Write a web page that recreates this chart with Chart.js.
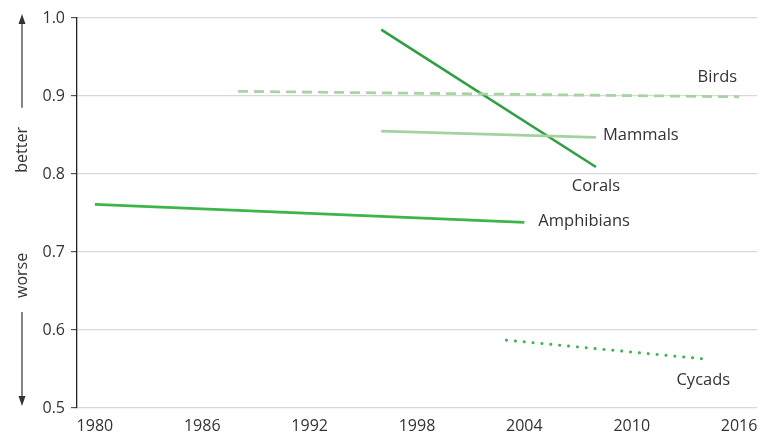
<!DOCTYPE html>
<html>
<head>
<meta charset="utf-8">
<script src="https://cdn.jsdelivr.net/npm/chart.js@4"></script>
<style>
  html, body { margin: 0; padding: 0; background: #fff; }
  #wrap { width: 774px; height: 435px; }
</style>
</head>
<body>
<div id="wrap"><canvas id="redList"></canvas></div>
<script>
// Red List index per group: first and last assessment
const amphibianYears = [1980, 2004];
const amphibianIndex = [0.761, 0.738];
const coralYears = [1996, 2008];
const coralIndex = [0.985, 0.809];
const mammalYears = [1996, 2008];
const mammalIndex = [0.855, 0.847];
const birdYears = [1988, 2016];
const birdIndex = [0.906, 0.899];
const cycadYears = [2003, 2014];
const cycadIndex = [0.587, 0.563];

const xTicks = [1980, 1986, 1992, 1998, 2004, 2010, 2016];
const yTicks = [0.5, 0.6, 0.7, 0.8, 0.9, 1.0];

const FONT = '"Open Sans", "DejaVu Sans", sans-serif';
const INK = '#333333';

function pts(xs, ys) {
  return xs.map((x, i) => ({ x: x, y: ys[i] }));
}

// group names next to the end of each line
const endLabels = {
  id: 'endLabels',
  afterDatasetsDraw(chart) {
    const ctx = chart.ctx;
    const xs = chart.scales.x, ys = chart.scales.y;
    ctx.save();
    ctx.font = '16.5px ' + FONT;
    ctx.fillStyle = INK;
    chart.data.datasets.forEach(ds => {
      const last = ds.data[ds.data.length - 1];
      const px = xs.getPixelForValue(last.x);
      const py = ys.getPixelForValue(last.y);
      const p = ds.labelPlace;
      ctx.textAlign = p.align;
      ctx.textBaseline = 'middle';
      ctx.fillText(ds.label, px + p.dx, py + p.dy);
    });
    ctx.restore();
  }
};

// "better" / "worse" arrows beside the y axis
const direction = {
  id: 'direction',
  afterDraw(chart) {
    const ctx = chart.ctx;
    const ys = chart.scales.y;
    const cx = 22;
    ctx.save();
    ctx.strokeStyle = INK;
    ctx.fillStyle = INK;
    ctx.lineWidth = 1.2;

    const upFrom = ys.getPixelForValue(0.885), upTo = ys.getPixelForValue(1.0) - 4;
    ctx.beginPath(); ctx.moveTo(cx, upFrom); ctx.lineTo(cx, upTo + 8); ctx.stroke();
    ctx.beginPath(); ctx.moveTo(cx, upTo); ctx.lineTo(cx - 3.5, upTo + 10); ctx.lineTo(cx + 3.5, upTo + 10); ctx.closePath(); ctx.fill();

    const dnFrom = ys.getPixelForValue(0.623), dnTo = ys.getPixelForValue(0.5) - 2;
    ctx.beginPath(); ctx.moveTo(cx, dnFrom); ctx.lineTo(cx, dnTo - 8); ctx.stroke();
    ctx.beginPath(); ctx.moveTo(cx, dnTo); ctx.lineTo(cx - 3.5, dnTo - 10); ctx.lineTo(cx + 3.5, dnTo - 10); ctx.closePath(); ctx.fill();

    ctx.font = '16px ' + FONT;
    ctx.textAlign = 'center';
    ctx.textBaseline = 'middle';
    [['better', 0.831], ['worse', 0.67]].forEach(([t, v]) => {
      ctx.save();
      ctx.translate(cx, ys.getPixelForValue(v));
      ctx.rotate(-Math.PI / 2);
      ctx.fillText(t, 0, 0);
      ctx.restore();
    });
    ctx.restore();
  }
};

const lineBase = { pointRadius: 0, pointHoverRadius: 0, fill: false, tension: 0 };

new Chart(document.getElementById('redList'), {
  type: 'line',
  data: {
    datasets: [
      Object.assign({}, lineBase, {
        label: 'Amphibians', data: pts(amphibianYears, amphibianIndex),
        borderColor: '#3db54a', borderWidth: 2.8,
        labelPlace: { align: 'left', dx: 14, dy: -1 }
      }),
      Object.assign({}, lineBase, {
        label: 'Mammals', data: pts(mammalYears, mammalIndex),
        borderColor: '#a2d39f', borderWidth: 2.8,
        labelPlace: { align: 'left', dx: 7, dy: -2 }
      }),
      Object.assign({}, lineBase, {
        label: 'Birds', data: pts(birdYears, birdIndex),
        borderColor: '#a6d5a2', borderWidth: 2.8, borderDash: [10, 6],
        labelPlace: { align: 'right', dx: -2, dy: -19 }
      }),
      Object.assign({}, lineBase, {
        label: 'Corals', data: pts(coralYears, coralIndex),
        borderColor: '#2f9f42', borderWidth: 2.6,
        labelPlace: { align: 'center', dx: 0, dy: 19 }
      }),
      Object.assign({}, lineBase, {
        label: 'Cycads', data: pts(cycadYears, cycadIndex),
        borderColor: '#3db54a', borderWidth: 3, borderDash: [0.1, 8.8], borderCapStyle: 'round',
        labelPlace: { align: 'center', dx: 0, dy: 21 }
      })
    ]
  },
  options: {
    responsive: true,
    maintainAspectRatio: false,
    animation: false,
    events: [],
    layout: { padding: { top: 18, right: 17, left: 0, bottom: 0 } },
    plugins: {
      legend: { display: false },
      tooltip: { enabled: false },
      title: { display: false }
    },
    scales: {
      x: {
        type: 'linear',
        min: 1979,
        max: 2017,
        afterBuildTicks: axis => { axis.ticks = xTicks.map(v => ({ value: v })); },
        afterFit: axis => { axis.height = 27; },
        grid: { display: false },
        border: { display: false },
        ticks: {
          color: INK,
          font: { family: FONT, size: 16 },
          padding: 1,
          maxRotation: 0,
          callback: v => String(v)
        }
      },
      y: {
        min: 0.5,
        max: 1.0,
        afterBuildTicks: axis => { axis.ticks = yTicks.map(v => ({ value: v })); },
        afterFit: axis => { axis.width = 77; },
        grid: { color: '#d8d8d8', lineWidth: 1.2, tickColor: '#555', tickLength: 6 },
        border: { display: true, color: '#222', width: 1.3 },
        ticks: {
          color: INK,
          font: { family: FONT, size: 16 },
          padding: 6,
          callback: v => v.toFixed(1)
        }
      }
    }
  },
  plugins: [endLabels, direction]
});
</script>
</body>
</html>
